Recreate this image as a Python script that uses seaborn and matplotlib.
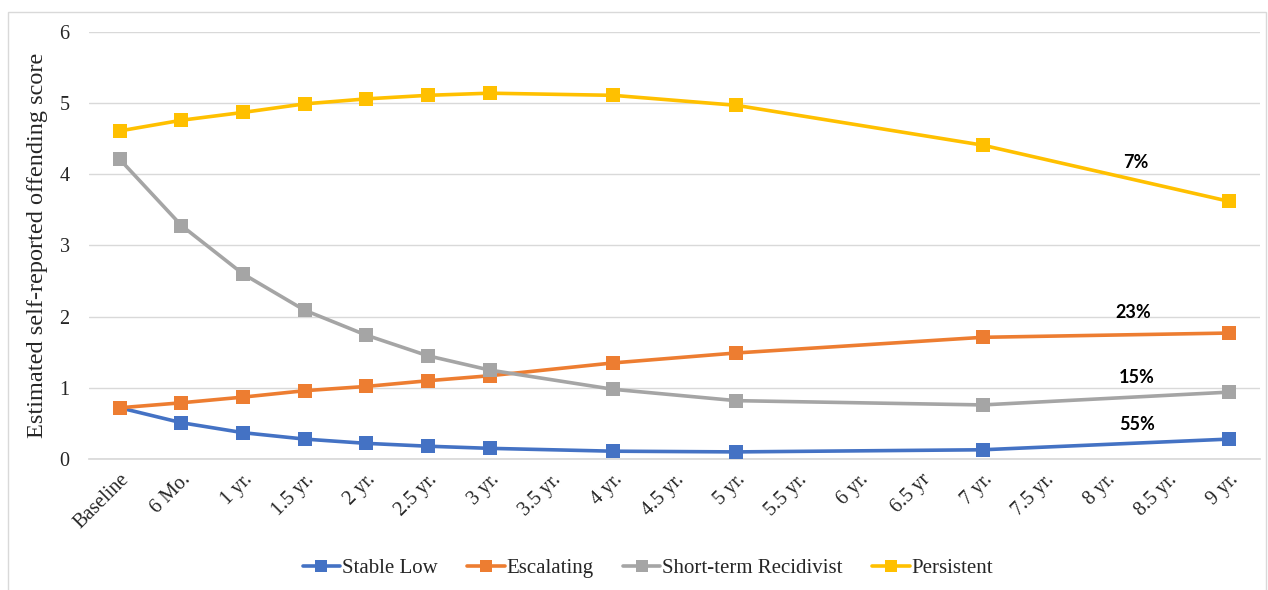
import numpy as np
import pandas as pd
import seaborn as sns
import matplotlib
matplotlib.use("Agg")
import matplotlib.pyplot as plt
from matplotlib.lines import Line2D
from matplotlib.patches import Rectangle

# Category axis (every half year, only some waves observed)
categories = ["Baseline", "6 Mo.", "1 yr.", "1.5 yr.", "2 yr.", "2.5 yr.", "3 yr.",
              "3.5 yr.", "4 yr.", "4.5 yr.", "5 yr.", "5.5 yr.", "6 yr.", "6.5 yr",
              "7 yr.", "7.5 yr.", "8 yr.", "8.5 yr.", "9 yr."]
waves = ["Baseline", "6 Mo.", "1 yr.", "1.5 yr.", "2 yr.", "2.5 yr.", "3 yr.",
         "4 yr.", "5 yr.", "7 yr.", "9 yr."]

stable_low = [0.72, 0.51, 0.37, 0.28, 0.22, 0.18, 0.15, 0.11, 0.10, 0.13, 0.28]
escalating = [0.72, 0.79, 0.87, 0.96, 1.02, 1.10, 1.17, 1.35, 1.49, 1.71, 1.77]
short_term = [4.21, 3.28, 2.60, 2.09, 1.74, 1.45, 1.25, 0.98, 0.82, 0.76, 0.94]
persistent = [4.61, 4.76, 4.87, 4.99, 5.06, 5.11, 5.14, 5.11, 4.97, 4.41, 3.62]

group_names = ["Stable Low", "Escalating", "Short-term Recidivist", "Persistent"]
group_values = [stable_low, escalating, short_term, persistent]
group_colors = ["#4472C4", "#ED7D31", "#A5A5A5", "#FFC000"]

# Group shares shown next to the curves
share_labels = ["55%", "23%", "15%", "7%"]
share_pos = [(16.5, 0.49), (16.45, 2.06), (16.5, 1.15), (16.48, 4.17)]

pos = {c: i for i, c in enumerate(categories)}
rows = []
for name, vals in zip(group_names, group_values):
    for w, v in zip(waves, vals):
        rows.append({"group": name, "wave": w, "x": pos[w], "score": v})
df = pd.DataFrame(rows)

sns.set_theme(style="white")
plt.rcParams["font.family"] = ["Liberation Serif", "DejaVu Serif"]

fig = plt.figure(figsize=(12.68, 5.90), dpi=100)
ax = fig.add_axes([0.0702, 0.222, 0.9235, 0.7238])

palette = dict(zip(group_names, group_colors))
sns.lineplot(data=df, x="x", y="score", hue="group", hue_order=group_names,
             palette=palette, marker="s", markersize=10, markeredgewidth=0,
             linewidth=2.6, ax=ax, legend=False, zorder=3)

for lab, (lx, ly) in zip(share_labels, share_pos):
    ax.text(lx, ly, lab, ha="center", va="center", fontsize=13, fontweight="bold",
            family=["Lato", "DejaVu Sans"], color="#000000")

ax.set_xlim(-0.5, len(categories) - 0.5)
ax.set_ylim(0, 6)
ax.set_yticks(range(0, 7))
ax.set_xticks(range(len(categories)))
ax.set_xticklabels(categories, rotation=45, ha="right", rotation_mode="anchor", fontsize=14.5)
ax.tick_params(axis="y", labelsize=14.5, length=0, pad=14)
ax.tick_params(axis="x", length=0, pad=8)
ax.grid(axis="y", color="#D9D9D9", lw=1)
for s in ["top", "right", "left"]:
    ax.spines[s].set_visible(False)
ax.spines["bottom"].set_color("#D9D9D9")
ax.set_xlabel("")
ax.set_ylabel("Estimated self-reported offending score", fontsize=17.5, labelpad=8)

handles = [Line2D([0], [0], color=c, lw=2.6, marker="s", markersize=9, markeredgewidth=0)
           for c in group_colors]
fig.legend(handles, group_names, loc="center", bbox_to_anchor=(0.511, 0.037), ncol=4,
           frameon=False, fontsize=15, handlelength=1.8, handletextpad=0.1, columnspacing=1.4)

fig.patches.append(Rectangle((8 / 1268, -0.01), 1258 / 1268, 1 - 12 / 590 + 0.01,
                             transform=fig.transFigure, fill=False, edgecolor="#D9D9D9", lw=1))

fig.savefig("out.png", dpi=100)
